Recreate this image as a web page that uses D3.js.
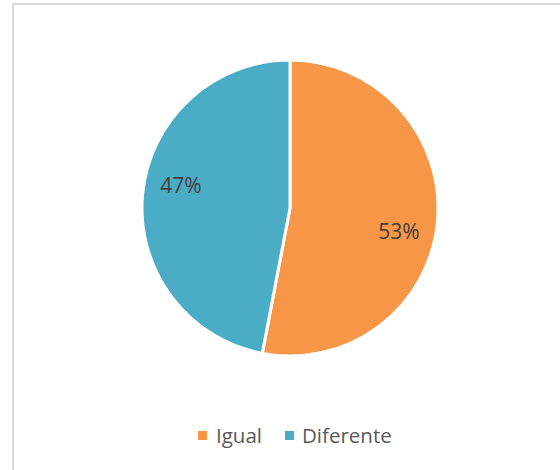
<!DOCTYPE html>
<html>
<head>
<meta charset="utf-8">
<script src="https://cdn.jsdelivr.net/npm/d3@7"></script>
<style>
	body { margin: 0; background: #fff; }
	svg { display: block; font-family: "Open Sans", "Noto Sans", sans-serif; }
</style>
</head>
<body>
<div id="chart"></div>
<script>
// data
const categories = ['Igual', 'Diferente'];
const values = [53, 47];
const labels = ['53%', '47%'];
const colors = ['#F79646', '#4BACC6'];

const width = 560;
const height = 470;
const cx = 290;
const cy = 208;
const radius = 148;

// excel "best fit" nudges for the data labels
const labelNudge = [[0, 13], [0, -12]];

const $svg = d3.select('#chart').append('svg')
	.attr('width', width)
	.attr('height', height);

// chart frame
$svg.append('rect')
	.attr('x', 13)
	.attr('y', 4)
	.attr('width', 560)
	.attr('height', 480)
	.attr('fill', '#fff')
	.attr('stroke', '#d9d9d9')
	.attr('stroke-width', 2);

const data = categories.map((c, i) => ({ key: c, value: values[i], label: labels[i], color: colors[i] }));

const pie = d3.pie()
	.value(d => d.value)
	.sort(null);

const arc = d3.arc()
	.innerRadius(0)
	.outerRadius(radius);

const arcs = pie(data);

const $g = $svg.append('g')
	.attr('transform', `translate(${cx}, ${cy})`);

$g.selectAll('path')
	.data(arcs)
	.enter()
	.append('path')
	.attr('d', arc)
	.attr('fill', d => d.data.color)
	.attr('stroke', '#fff')
	.attr('stroke-width', 3)
	.attr('stroke-linejoin', 'miter');

// data labels, placed along the slice bisector
const labelArc = d3.arc()
	.innerRadius(radius * 0.74)
	.outerRadius(radius * 0.74);

$g.selectAll('text.lbl')
	.data(arcs)
	.enter()
	.append('text')
	.attr('class', 'lbl')
	.attr('transform', (d, i) => {
		const [x, y] = labelArc.centroid(d);
		return `translate(${x + labelNudge[i][0]}, ${y + labelNudge[i][1]})`;
	})
	.attr('text-anchor', 'middle')
	.attr('dy', '0.35em')
	.attr('fill', '#404040')
	.attr('font-size', 21)
	.text(d => d.data.label);

// legend
const legendItems = [
	{ x: 198, textX: 216 },
	{ x: 285, textX: 302 }
];

const $legend = $svg.append('g');

const $items = $legend.selectAll('g')
	.data(data)
	.enter()
	.append('g');

$items.append('rect')
	.attr('x', (d, i) => legendItems[i].x)
	.attr('y', 431)
	.attr('width', 9)
	.attr('height', 9)
	.attr('fill', d => d.color);

$items.append('text')
	.attr('x', (d, i) => legendItems[i].textX)
	.attr('y', 443)
	.attr('fill', '#595959')
	.attr('font-size', 20.5)
	.text(d => d.key);
</script>
</body>
</html>
